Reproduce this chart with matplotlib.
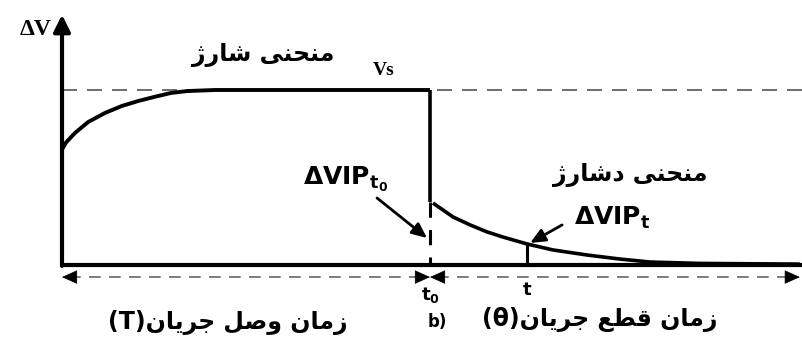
import matplotlib
matplotlib.use("Agg")
import matplotlib.pyplot as plt

# --- data (t0 = 1, Vs = 1) ---
charge_t = [0.0, 0.011, 0.035, 0.071, 0.117, 0.163, 0.207, 0.25, 0.296, 0.34, 0.416, 1.0]
charge_v = [0.66, 0.70, 0.754, 0.817, 0.869, 0.909, 0.937, 0.96, 0.983, 0.994, 1.0, 1.0]

drop_v = 0.36  # where the solid drop ends at t0

discharge_t = [1.008, 1.063, 1.109, 1.155, 1.198, 1.264, 1.334, 1.427, 1.516, 1.598, 1.734, 2.005]
discharge_v = [0.354, 0.274, 0.229, 0.189, 0.16, 0.12, 0.086, 0.057, 0.034, 0.017, 0.009, 0.005]

t0 = 1.0
t_meas = 1.264
v_meas = 0.12
vs = 1.0
t_end = 2.02

label_charge = "منحنی شارژ"
label_discharge = "منحنی دشارژ"
label_on = "زمان وصل جریان"
label_off = "زمان قطع جریان"

# Arabic presentation forms: (isolated, final[, initial, medial])
FORMS = {
    "ا": ("\uFE8D", "\uFE8E"),
    "ج": ("\uFE9D", "\uFE9E", "\uFE9F", "\uFEA0"),
    "ح": ("\uFEA1", "\uFEA2", "\uFEA3", "\uFEA4"),
    "د": ("\uFEA9", "\uFEAA"),
    "ر": ("\uFEAD", "\uFEAE"),
    "ز": ("\uFEAF", "\uFEB0"),
    "ژ": ("\uFB8A", "\uFB8B"),
    "ش": ("\uFEB5", "\uFEB6", "\uFEB7", "\uFEB8"),
    "ص": ("\uFEB9", "\uFEBA", "\uFEBB", "\uFEBC"),
    "ط": ("\uFEC1", "\uFEC2", "\uFEC3", "\uFEC4"),
    "ع": ("\uFEC9", "\uFECA", "\uFECB", "\uFECC"),
    "ق": ("\uFED5", "\uFED6", "\uFED7", "\uFED8"),
    "ل": ("\uFEDD", "\uFEDE", "\uFEDF", "\uFEE0"),
    "م": ("\uFEE1", "\uFEE2", "\uFEE3", "\uFEE4"),
    "ن": ("\uFEE5", "\uFEE6", "\uFEE7", "\uFEE8"),
    "و": ("\uFEED", "\uFEEE"),
    "ی": ("\uFBFC", "\uFBFD", "\uFBFE", "\uFBFF"),
}


def rtl(text, suffix=""):
    # join the letters and put them in visual (left-to-right) order
    out = []
    for i, ch in enumerate(text):
        f = FORMS.get(ch)
        if f is None:
            out.append(ch)
            continue
        prev = text[i - 1] if i > 0 else ""
        nxt = text[i + 1] if i + 1 < len(text) else ""
        join_prev = prev in FORMS and len(FORMS[prev]) == 4
        join_next = len(f) == 4 and nxt in FORMS
        if join_prev and join_next:
            out.append(f[3])
        elif join_prev:
            out.append(f[1])
        elif join_next:
            out.append(f[2])
        else:
            out.append(f[0])
    return suffix + "".join(reversed(out))


plt.rcParams["font.family"] = ["DejaVu Sans"]
plt.rcParams["mathtext.fontset"] = "dejavusans"

fig = plt.figure(figsize=(8.03, 3.45), dpi=100)
ax = fig.add_axes([0, 0, 1, 1])
ax.set_xlim(-62 / 368, 741 / 368)
ax.set_ylim(-80 / 175, 265 / 175)
ax.axis("off")

# Vs reference line
ax.plot([0, t_end], [vs, vs], color="#555555", lw=1.2, dashes=(9, 6))

# axes
ax.plot([0, t_end], [0, 0], color="black", lw=3, solid_capstyle="butt")
ax.annotate("", xy=(0, 1.43), xytext=(0, -0.005),
            arrowprops=dict(arrowstyle="-|>,head_length=1.0,head_width=0.5",
                            color="black", lw=3, shrinkA=0, shrinkB=0))

# charge / drop / discharge
ax.plot(charge_t, charge_v, color="black", lw=2.8, solid_capstyle="butt")
ax.plot([t0, t0], [vs, drop_v], color="black", lw=2.6, solid_capstyle="butt")
ax.plot([t0, t0], [drop_v, 0], color="black", lw=2.2, dashes=(5, 4))
ax.plot(discharge_t, discharge_v, color="black", lw=2.6, solid_capstyle="butt")
ax.plot([t_meas, t_meas], [0, v_meas], color="black", lw=2.2)

# time span arrows under the axis
y_span = -0.069
ax.plot([0.02, t0 - 0.02], [y_span, y_span], color="#666666", lw=1.2, dashes=(7, 5))
ax.plot([t0 + 0.02, 1.985], [y_span, y_span], color="#666666", lw=1.2, dashes=(7, 5))
head = dict(arrowstyle="-|>,head_length=1.0,head_width=0.45", color="black",
            lw=0.5, shrinkA=0, shrinkB=0)
for tip, back in [(0.0, 0.04), (t0, t0 - 0.04), (t0, t0 + 0.04), (2.005, 1.965)]:
    ax.annotate("", xy=(tip, y_span), xytext=(back, y_span), arrowprops=head)

# pointer arrows
ptr = dict(arrowstyle="-|>,head_length=0.9,head_width=0.4", color="black",
           lw=2, shrinkA=0, shrinkB=0)
ax.annotate("", xy=(0.992, 0.154), xytext=(0.856, 0.383), arrowprops=ptr)
ax.annotate("", xy=(1.272, 0.126), xytext=(1.359, 0.229), arrowprops=ptr)

# labels
ax.text(-0.073, 1.343, "ΔV", family="Liberation Serif", weight="bold",
        fontsize=17, ha="center", va="center")
ax.text(0.875, 1.114, "Vs", family="Liberation Serif", weight="bold",
        fontsize=14, ha="center", va="center")
ax.text(0.546, 1.2, rtl(label_charge), weight="bold", fontsize=17,
        ha="center", va="center")
ax.text(1.543, 0.514, rtl(label_discharge), weight="bold", fontsize=17,
        ha="center", va="center")
ax.text(0.77, 0.49, r"$\mathbf{\Delta VIP}_{\mathbf{t_0}}$", fontsize=18,
        ha="center", va="center")
ax.text(1.495, 0.27, r"$\mathbf{\Delta VIP}_{\mathbf{t}}$", fontsize=18,
        ha="center", va="center")
ax.text(t0, -0.171, r"$\mathbf{t_0}$", fontsize=13, ha="center", va="center")
ax.text(t_meas, -0.143, r"$\mathbf{t}$", fontsize=13, ha="center", va="center")
ax.text(1.019, -0.326, "b)", weight="bold", fontsize=12, ha="center", va="center")
ax.text(0.451, -0.326, rtl(label_on, "(T)"), weight="bold", fontsize=17,
        ha="center", va="center")
ax.text(1.462, -0.314, rtl(label_off, "(θ)"), weight="bold", fontsize=17,
        ha="center", va="center")

fig.savefig("out.png", dpi=100)
